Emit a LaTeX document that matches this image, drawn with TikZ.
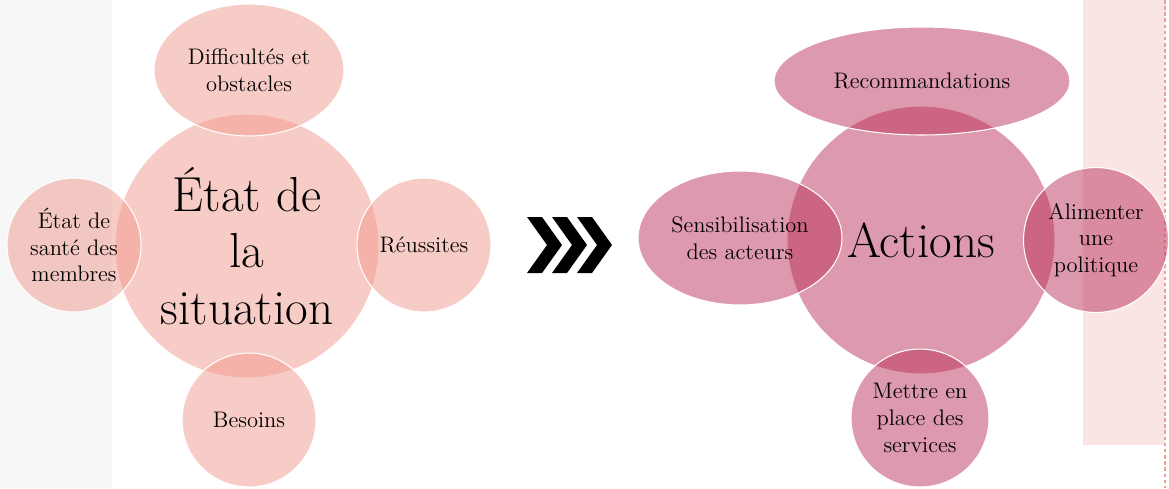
\documentclass[tikz,border=0pt]{standalone}
\usepackage{fontspec}
\usetikzlibrary{shapes.geometric}
\definecolor{saumon}{RGB}{241,153,141}
\definecolor{framboise}{RGB}{187,51,92}
\definecolor{bandegris}{RGB}{247,247,247}
\definecolor{banderose}{RGB}{250,228,228}
\definecolor{pointille}{RGB}{238,160,150}

\begin{document}
\begin{tikzpicture}[x=0.02cm, y=-0.02cm,
    bulle/.style={circle, draw=white, line width=0.6pt, fill opacity=0.5,
        text opacity=1, inner sep=0pt, align=center,
        font=\fontsize{12.8}{15.2}\selectfont},
    ovale/.style={bulle, ellipse},
    grande/.style={bulle, font=\fontsize{28}{32}\selectfont}]
                    \useasboundingbox (0, 0) rectangle (1169, 488);

                    % bandes du fond
                    \fill[bandegris] (0, 0) rectangle (112, 488);
                    \fill[banderose] (1083, 0) rectangle (1165, 445);
                    \draw[pointille, line width=0.6pt, dash pattern=on 2pt off 1.5pt] (1165, 0) -- (1165, 488);

                    % etat de la situation
                    \node[grande, fill=saumon, minimum size=5.28cm] (etat) at (247, 246) {\'Etat de\\la\\situation};
                    \node[ovale, fill=saumon, minimum width=3.8cm, minimum height=2.64cm] (diff) at (249, 70) {Difficult\'es et\\obstacles};
                    \node[bulle, fill=saumon, minimum size=2.68cm] (sante) at (74, 245) {\'Etat de\\sant\'e des\\membres};
                    \node[bulle, fill=saumon, minimum size=2.68cm] (reuss) at (424, 245) {R\'eussites};
                    \node[bulle, fill=saumon, minimum size=2.68cm] (besoins) at (249, 420) {Besoins};

                    % fleches
                    \foreach \cx in {527, 552, 577}
                        \fill[black] (\cx, 217) -- ++(15, 0) -- ++(20, 28) -- ++(-20, 28)
                            -- ++(-15, 0) -- ++(20, -28) -- cycle;

                    % actions
                    \node[grande, fill=framboise, minimum size=5.36cm] (actions) at (921, 240) {Actions};
                    \node[ovale, fill=framboise, minimum width=5.92cm, minimum height=2.16cm] (recom) at (922, 81) {Recommandations};
                    \node[ovale, fill=framboise, minimum width=4.08cm, minimum height=2.68cm] (sensib) at (740, 238) {Sensibilisation\\des acteurs};
                    \node[bulle, fill=framboise, minimum size=2.9cm] (alim) at (1096, 240) {Alimenter\\une\\politique};
                    \node[bulle, fill=framboise, minimum size=2.76cm] (services) at (920, 418) {Mettre en\\place des\\services};
                \end{tikzpicture}
\end{document}
